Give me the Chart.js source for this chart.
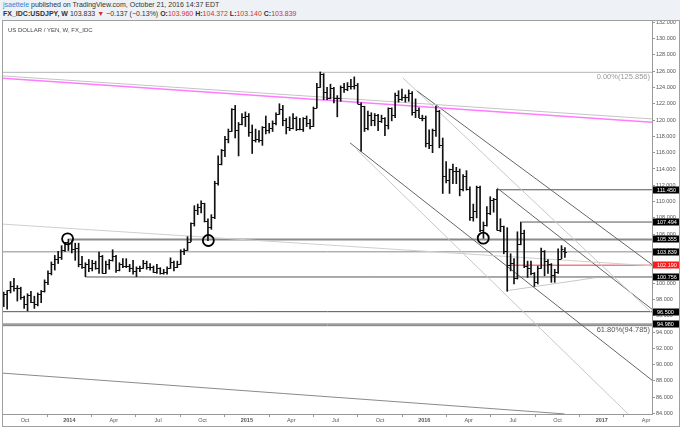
<!DOCTYPE html>
<html>
<head>
<meta charset="utf-8">
<script src="https://cdn.jsdelivr.net/npm/chart.js@4.4.0/dist/chart.umd.min.js"></script>
<style>
  body { margin: 0; width: 680px; height: 427px; background: #fff; font-family: "Liberation Sans", Arial, sans-serif; overflow: hidden; }
  #hdr { position: absolute; left: 0; top: 0; width: 680px; height: 20px; background: #eef1f5; }
  #hdr div { position: absolute; left: 3px; font-size: 7px; color: #333; white-space: nowrap; }
  #l1 { top: 1px; }
  #l2 { top: 10px; }
  .user { color: #2f86d6; }
  .r { color: #d32f2f; }
  #box { position: absolute; left: 2px; top: 20px; width: 678px; height: 407px; border: 1px solid #a0a0a0; box-sizing: border-box; }
  #wrap { position: absolute; left: 0; top: 0; width: 676px; height: 405px; }
  #title { position: absolute; left: 5px; top: 6px; font-size: 6px; color: #444; }
</style>
</head>
<body>
<div id="hdr">
  <div id="l1"><span class="user">jsaettele</span> published on TradingView.com, October 21, 2016 14:37 EDT</div>
  <div id="l2"><b>FX_IDC:USDJPY, W</b> 103.833 <span class="r">▼</span> −0.137 (−0.13%) <b>O:</b><span class="r">103.960</span> <b>H:</b><span class="r">104.372</span> <b>L:</b><span class="r">103.140</span> <b>C:</b><span class="r">103.839</span></div>
</div>
<div id="box">
  <div id="wrap"><canvas id="chart"></canvas></div>
  <div id="title">US DOLLAR / YEN, W, FX_IDC</div>
</div>
<script>
// weekly bars, first one starts on this Monday
const firstWeek = '2013-08-19';

const opens = [
  97.5, 98.7, 99.1, 99.6, 99.4, 99.4, 98.3, 97.5, 98.6, 97.7, 97.4, 98.7, 99.0, 100.2, 101.3, 102.4, 102.9, 103.2, 104.1, 105.0,
  104.9, 104.2, 104.3, 102.3, 102.0, 102.3, 101.8, 102.5, 101.8, 103.3, 101.3, 102.3, 102.8, 103.3, 101.6, 102.4, 102.1, 102.1, 101.8, 101.5,
  101.9, 101.8, 102.5, 102.0, 102.0, 101.4, 101.8, 101.3, 101.4, 101.8, 102.6, 102.0, 102.4, 104.0, 104.1, 105.1, 107.4, 109.0, 109.3, 109.8,
  107.6, 106.9, 108.1, 112.3, 114.6, 116.3, 117.7, 118.6, 121.4, 118.8, 119.5, 120.4, 120.5, 118.5, 117.5, 117.7, 117.5, 119.1, 118.8, 119.0,
  119.6, 120.8, 121.4, 120.0, 119.1, 119.0, 120.2, 118.9, 118.9, 120.2, 119.7, 119.3, 121.5, 124.1, 125.6, 123.4, 122.7, 123.9, 122.7, 122.7,
  124.1, 123.8, 124.2, 124.2, 124.3, 122.0, 121.7, 119.0, 120.6, 120.0, 120.6, 119.9, 120.2, 119.4, 121.5, 120.6, 123.1, 122.6, 122.8, 122.8,
  123.3, 121.0, 121.2, 120.3, 120.2, 117.2, 117.0, 118.8, 121.1, 116.9, 113.2, 112.6, 114.0, 113.8, 113.8, 111.5, 113.1, 111.6, 108.1, 108.8,
  111.8, 106.5, 107.1, 108.6, 110.2, 110.3, 106.5, 107.0, 104.0, 102.2, 102.5, 100.6, 104.8, 106.1, 102.1, 101.8, 101.2, 100.2, 101.8, 104.0,
  102.7, 102.3, 101.0, 101.4, 103.0, 103.96
];
const highs = [
  98.9, 99.1, 100.2, 100.6, 99.7, 99.5, 98.4, 98.7, 99.0, 98.4, 98.8, 99.1, 100.4, 101.5, 102.6, 103.4, 103.9, 104.6, 105.0, 105.4,
  105.2, 104.9, 104.9, 103.3, 102.5, 102.9, 102.8, 102.7, 103.8, 103.4, 102.7, 102.9, 104.1, 103.4, 102.5, 103.0, 103.0, 102.3, 102.8, 102.0,
  102.1, 102.8, 102.7, 102.4, 102.1, 102.3, 101.9, 101.7, 102.0, 103.1, 102.7, 102.7, 104.1, 104.2, 105.7, 107.4, 109.5, 109.7, 110.1, 109.8,
  107.9, 108.4, 112.5, 115.6, 116.4, 118.0, 118.9, 121.4, 121.8, 119.7, 120.8, 121.0, 120.8, 119.4, 118.9, 118.7, 119.2, 120.5, 119.6, 119.9,
  120.9, 122.0, 121.8, 120.2, 120.4, 120.8, 120.4, 120.2, 120.3, 120.5, 120.1, 121.6, 124.5, 125.9, 125.7, 124.0, 124.4, 124.0, 123.0, 124.2,
  124.5, 124.6, 125.0, 125.3, 124.5, 122.1, 121.7, 121.1, 120.9, 120.8, 120.7, 120.6, 120.3, 121.5, 121.5, 123.3, 123.6, 123.8, 123.1, 123.7,
  123.5, 122.6, 121.5, 120.6, 120.5, 118.8, 118.9, 121.7, 121.2, 117.8, 114.9, 114.0, 114.6, 114.2, 114.0, 113.3, 113.8, 111.8, 109.7, 111.9,
  111.9, 107.5, 109.4, 110.6, 110.4, 111.5, 107.9, 107.0, 106.8, 103.6, 103.0, 106.3, 107.5, 106.5, 102.7, 102.7, 101.3, 102.1, 104.3, 104.0,
  102.9, 102.4, 101.7, 104.2, 104.6, 104.372
];
const lows = [
  97.1, 96.8, 98.8, 99.0, 97.8, 98.0, 96.9, 96.6, 97.6, 96.9, 97.2, 97.6, 98.9, 99.8, 101.0, 101.6, 102.4, 102.9, 103.9, 104.0,
  103.7, 102.8, 102.0, 101.8, 100.8, 101.4, 101.5, 101.7, 101.2, 101.2, 101.2, 101.7, 102.7, 101.3, 101.5, 101.9, 101.9, 101.4, 101.1, 100.8,
  101.4, 101.8, 101.7, 101.6, 101.3, 101.2, 101.1, 101.1, 101.1, 101.8, 101.5, 101.9, 102.3, 103.5, 104.0, 105.1, 107.0, 108.4, 108.6, 107.5,
  105.2, 106.6, 107.9, 112.0, 114.5, 115.5, 117.2, 118.6, 117.8, 115.6, 119.4, 119.2, 118.0, 115.9, 117.3, 117.3, 116.9, 118.3, 118.4, 118.6,
  119.4, 120.7, 119.3, 118.3, 118.7, 118.9, 118.7, 118.8, 118.6, 119.2, 118.9, 119.2, 121.5, 124.0, 122.5, 122.5, 122.6, 122.1, 120.4, 122.3,
  123.4, 123.6, 123.8, 123.8, 122.0, 116.2, 118.6, 118.8, 119.3, 119.3, 118.7, 119.7, 118.1, 118.9, 119.9, 120.3, 122.2, 122.4, 122.2, 122.3,
  120.6, 120.3, 120.3, 119.9, 116.7, 116.5, 116.0, 118.0, 116.6, 111.0, 112.3, 111.0, 112.2, 112.2, 110.7, 111.3, 111.4, 107.7, 107.6, 108.0,
  106.3, 105.5, 107.0, 108.4, 108.7, 106.5, 106.3, 103.6, 99.0, 101.5, 99.9, 100.5, 104.7, 101.9, 100.7, 101.0, 99.6, 99.9, 101.8, 100.9,
  101.2, 100.1, 100.1, 101.2, 103.0, 103.14
];
const closes = [
  98.7, 99.1, 99.6, 99.4, 99.4, 98.3, 97.5, 98.6, 97.7, 97.4, 98.7, 99.0, 100.2, 101.3, 102.4, 102.9, 103.2, 104.1, 105.0, 104.9,
  104.2, 104.3, 102.3, 102.0, 102.3, 101.8, 102.5, 101.8, 103.3, 101.3, 102.3, 102.8, 103.3, 101.6, 102.4, 102.1, 102.1, 101.8, 101.5, 101.9,
  101.8, 102.5, 102.0, 102.0, 101.4, 101.8, 101.3, 101.4, 101.8, 102.6, 102.0, 102.4, 104.0, 104.1, 105.1, 107.4, 109.0, 109.3, 109.8, 107.6,
  106.9, 108.1, 112.3, 114.6, 116.3, 117.7, 118.6, 121.4, 118.8, 119.5, 120.4, 120.5, 118.5, 117.5, 117.7, 117.5, 119.1, 118.8, 119.0, 119.6,
  120.8, 121.4, 120.0, 119.1, 119.0, 120.2, 118.9, 118.9, 120.2, 119.7, 119.3, 121.5, 124.1, 125.6, 123.4, 122.7, 123.9, 122.7, 122.7, 124.1,
  123.8, 124.2, 124.2, 124.3, 122.0, 121.7, 119.0, 120.6, 120.0, 120.6, 119.9, 120.2, 119.4, 121.5, 120.6, 123.1, 122.6, 122.8, 122.8, 123.3,
  121.0, 121.2, 120.3, 120.2, 117.2, 117.0, 118.8, 121.1, 116.9, 113.2, 112.6, 114.0, 113.8, 113.8, 111.5, 113.1, 111.6, 108.1, 108.8, 111.8,
  106.5, 107.1, 108.6, 110.2, 110.3, 106.5, 107.0, 104.0, 102.2, 102.5, 100.6, 104.8, 106.1, 102.1, 101.8, 101.2, 100.2, 101.8, 104.0, 102.7,
  102.3, 101.0, 101.4, 103.0, 104.2, 103.839
];

// horizontal levels: price and the date (decimal year) where each one starts
const levelValues = [125.856, 111.45, 107.494, 105.355, 103.839, 102.19, 100.756, 96.5, 94.98, 94.785];
const levelStarts = [2013.6, 2016.41, 2016.55, 2014.0, 2013.6, 2016.48, 2014.09, 2013.6, 2013.6, 2013.6];
const levelColors = ['#b4b4b4', '#555', '#555', '#8a8a8a', '#8a8a8a', '#f08080', '#555', '#555', '#555', '#777'];
const levelWidths = [1, 1, 1, 2, 1, 1.5, 1, 1, 1, 1];

// price tags on the right axis
const tagValues = [111.45, 107.494, 105.355, 103.839, 102.19, 100.756, 96.5, 94.98];
const tagColors = ['#000', '#000', '#000', '#000', '#ff1a1a', '#000', '#000', '#000'];

// fib texts
const fibValues = [125.856, 94.785];
const fibTexts = ['0.00%(125.856)', '61.80%(94.785)'];

// trend lines: [decimal year, price] at each end
const trendFrom = [[2013.6, 125.45], [2013.6, 125.18], [2013.6, 107.27], [2013.6, 89.0], [2015.958, 123.59],
  [2015.879, 125.18], [2016.409, 111.69], [2015.581, 117.21], [2015.62, 116.36], [2016.47, 99.09]];
const trendTo = [[2017.3, 120.12], [2017.3, 119.7], [2017.3, 102.1], [2016.79, 83.96], [2017.3, 102.0],
  [2017.3, 96.0], [2017.3, 96.5], [2017.3, 87.8], [2017.148, 83.96], [2016.96, 100.65]];
const trendColors = ['#c4c4c4', '#ff7bff', '#cfcfcf', '#8a8a8a', '#666', '#c8c8c8', '#666', '#666', '#c8c8c8', '#c8c8c8'];
const trendWidths = [1, 1.5, 1, 1, 1, 1, 1, 1, 1, 1];

// circled swing points
const circleDates = [2013.99, 2014.783, 2016.332];
const circleValues = [105.44, 105.23, 105.52];

const monthNames = { 0.25: 'Apr', 0.5: 'Jul', 0.75: 'Oct' };

function toYear(d) {
  const y = d.getUTCFullYear();
  const a = Date.UTC(y, 0, 1), b = Date.UTC(y + 1, 0, 1);
  return y + (d.getTime() - a) / (b - a);
}
const start = new Date(firstWeek + 'T00:00:00Z');
const weekX = opens.map((_, i) => toYear(new Date(start.getTime() + i * 7 * 86400000)));

const datasets = [];
datasets.push({
  type: 'bar',
  data: weekX.map((x, i) => ({ x: x, y: [lows[i], highs[i]] })),
  backgroundColor: '#111',
  barThickness: 1,
  borderWidth: 0,
  order: 1
});
levelValues.forEach((v, i) => {
  datasets.push({
    type: 'line',
    data: [{ x: levelStarts[i], y: v }, { x: 2017.3, y: v }],
    borderColor: levelColors[i], borderWidth: levelWidths[i],
    pointRadius: 0, order: 3
  });
});
trendFrom.forEach((p, i) => {
  datasets.push({
    type: 'line',
    data: [{ x: p[0], y: p[1] }, { x: trendTo[i][0], y: trendTo[i][1] }],
    borderColor: trendColors[i], borderWidth: trendWidths[i],
    pointRadius: 0, order: 2
  });
});
datasets.push({
  type: 'line',
  showLine: false,
  data: circleDates.map((x, i) => ({ x: x, y: circleValues[i] })),
  pointStyle: 'circle', pointRadius: 5.5, pointBorderWidth: 1.8,
  pointBorderColor: '#000', pointBackgroundColor: 'rgba(0,0,0,0)',
  order: 0
});

// open/close ticks of the OHLC bars, tags and fib texts
const extras = {
  id: 'extras',
  afterDatasetsDraw(chart) {
    const ctx = chart.ctx, xs = chart.scales.x, ys = chart.scales.y;
    ctx.save();
    ctx.strokeStyle = '#111';
    ctx.lineWidth = 1;
    ctx.beginPath();
    weekX.forEach((x, i) => {
      const px = xs.getPixelForValue(x);
      const yo = Math.round(ys.getPixelForValue(opens[i])) + 0.5;
      const yc = Math.round(ys.getPixelForValue(closes[i])) + 0.5;
      ctx.moveTo(px - 2, yo); ctx.lineTo(px, yo);
      ctx.moveTo(px, yc); ctx.lineTo(px + 2, yc);
    });
    ctx.stroke();
    ctx.font = '7.5px "Liberation Sans", Arial, sans-serif';
    ctx.textAlign = 'right';
    ctx.textBaseline = 'middle';
    fibValues.forEach((v, i) => {
      ctx.fillStyle = i === 0 ? '#9a9a9a' : '#555';
      ctx.fillText(fibTexts[i], chart.chartArea.right - 2, ys.getPixelForValue(v) + 4.5);
    });
    ctx.restore();
  },
  afterDraw(chart) {
    const ctx = chart.ctx, ys = chart.scales.y, right = chart.chartArea.right;
    ctx.save();
    ctx.font = '5.5px "Liberation Sans", Arial, sans-serif';
    ctx.textBaseline = 'middle';
    ctx.textAlign = 'left';
    tagValues.forEach((v, i) => {
      const y = Math.round(ys.getPixelForValue(v));
      ctx.fillStyle = tagColors[i];
      ctx.fillRect(right + 1, y - 3.5, chart.width - right - 1, 7);
      ctx.fillStyle = '#fff';
      ctx.fillText(v.toFixed(3), right + 5, y + 0.5);
    });
    ctx.restore();
  }
};

function onStep(v, step) {
  return Math.abs(v / step - Math.round(v / step)) < 1e-6;
}

new Chart(document.getElementById('chart'), {
  type: 'bar',
  data: { datasets: datasets },
  options: {
    responsive: true,
    maintainAspectRatio: false,
    animation: false,
    layout: { padding: 0, autoPadding: false },
    plugins: { legend: { display: false }, tooltip: { enabled: false } },
    scales: {
      x: {
        type: 'linear',
        offset: false,
        min: 2013.626, max: 2017.283,
        ticks: {
          stepSize: 0.25,
          includeBounds: false,
          maxRotation: 0,
          autoSkip: false,
          padding: 0,
          color: '#555',
          font: (c) => ({ size: 5.5, family: '"Liberation Sans", Arial, sans-serif',
            weight: c.tick && onStep(c.tick.value, 1) ? 'bold' : 'normal' }),
          callback: (v) => onStep(v, 1) ? String(Math.round(v)) : monthNames[Math.round((v - Math.floor(v)) * 100) / 100]
        },
        afterBuildTicks: (s) => { s.ticks = s.ticks.filter(t => onStep(t.value, 0.25)); },
        afterFit: (s) => { s.height = 12; s.paddingLeft = 0; s.paddingRight = 0; },
        grid: { drawOnChartArea: false, tickLength: 3, color: '#999' },
        border: { color: '#999' }
      },
      y: {
        position: 'right',
        min: 83.95, max: 132.15,
        ticks: {
          stepSize: 2,
          includeBounds: false,
          padding: 1,
          color: '#555',
          font: { size: 5.5, family: '"Liberation Sans", Arial, sans-serif' },
          callback: (v) => v.toFixed(3)
        },
        afterBuildTicks: (s) => { s.ticks = s.ticks.filter(t => onStep(t.value, 2)); },
        afterFit: (s) => { s.width = 27; s.paddingTop = 0; s.paddingBottom = 0; },
        grid: { drawOnChartArea: false, tickLength: 3, color: '#999' },
        border: { color: '#999' }
      }
    }
  },
  plugins: [extras]
});
</script>
</body>
</html>
